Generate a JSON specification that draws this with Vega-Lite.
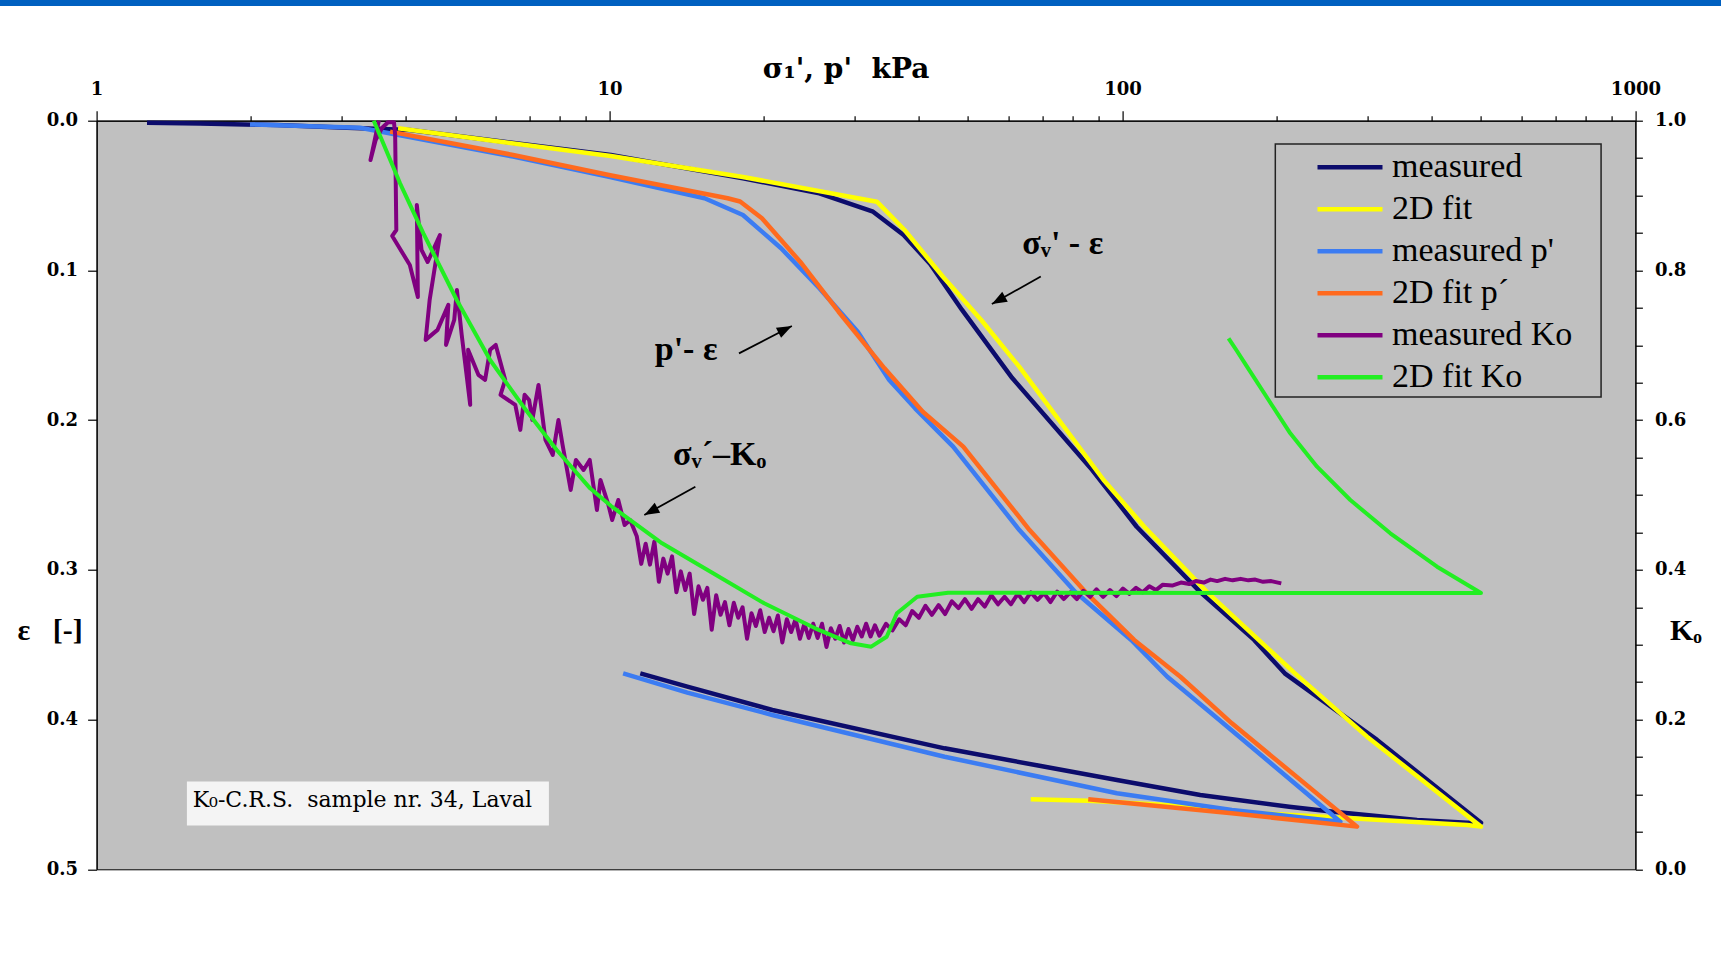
{
  "$schema": "https://vega.github.io/schema/vega-lite/v6.json",
  "width": 1538.8,
  "height": 748.6,
  "autosize": {"type": "none"},
  "padding": {"left": 96.6, "top": 120.7, "right": 85.6, "bottom": 85.7},
  "background": "#ffffff",
  "config": {
    "view": {"fill": "#c0c0c0", "stroke": "#000000", "strokeWidth": 1},
    "axis": {"grid": false, "domainColor": "#000000", "tickColor": "#000000", "labelColor": "#000000", "titleColor": "#000000", "domainWidth": 1.2, "tickWidth": 1.2}
  },
  "datasets": {
    "boxes": [
      {"kind": "header", "sigma": 0.5, "sigma2": 2000, "eps": -0.082, "eps2": -0.0766},
      {"kind": "legend", "sigma": 198.6, "sigma2": 857.2, "eps": 0.01556, "eps2": 0.1845},
      {"kind": "caption", "sigma": 1.5, "sigma2": 7.617, "eps": 0.4414, "eps2": 0.4707}
    ],
    "notes": [
      {"kind": "annotation", "label": "\u03c3\u1d65' - \u03b5", "sigma": 63.77, "eps": 0.089},
      {"kind": "annotation", "label": "p'- \u03b5", "sigma": 12.25, "eps": 0.1598},
      {"kind": "annotation", "label": "\u03c3\u1d65\u00b4\u2013K\u2092", "sigma": 13.3, "eps": 0.23},
      {"kind": "caption", "label": "K\u2080-C.R.S.\u00a0 sample nr. 34, Laval", "sigma": 1.539, "eps": 0.4582}
    ],
    "arrows": [
      {"dir": "down-left", "sigma": 69.3, "eps": 0.1041, "sigma2": 55.65, "eps2": 0.1224},
      {"dir": "up-right", "sigma": 17.88, "eps": 0.1554, "sigma2": 22.67, "eps2": 0.1371},
      {"dir": "down-left", "sigma": 14.7, "eps": 0.2445, "sigma2": 11.69, "eps2": 0.2634}
    ],
    "tips": [
      {"dir": "down-left", "sigma": 55.65, "eps": 0.1224},
      {"dir": "up-right", "sigma": 22.67, "eps": 0.1371},
      {"dir": "down-left", "sigma": 11.69, "eps": 0.2634}
    ],
    "strain": [
      {"series": "measured", "i": 1, "sigma": 1.254, "eps": 0.0013},
      {"series": "measured", "i": 2, "sigma": 1.591, "eps": 0.0019},
      {"series": "measured", "i": 3, "sigma": 2.248, "eps": 0.0029},
      {"series": "measured", "i": 4, "sigma": 2.984, "eps": 0.0045},
      {"series": "measured", "i": 5, "sigma": 4.08, "eps": 0.0062},
      {"series": "measured", "i": 6, "sigma": 10.06, "eps": 0.0229},
      {"series": "measured", "i": 7, "sigma": 18.2, "eps": 0.0385},
      {"series": "measured", "i": 8, "sigma": 25.65, "eps": 0.0485},
      {"series": "measured", "i": 9, "sigma": 32.64, "eps": 0.0608},
      {"series": "measured", "i": 10, "sigma": 37.44, "eps": 0.0763},
      {"series": "measured", "i": 11, "sigma": 42.19, "eps": 0.0957},
      {"series": "measured", "i": 12, "sigma": 48.67, "eps": 0.1264},
      {"series": "measured", "i": 13, "sigma": 60.97, "eps": 0.1719},
      {"series": "measured", "i": 14, "sigma": 87.32, "eps": 0.2333},
      {"series": "measured", "i": 15, "sigma": 106.6, "eps": 0.2712},
      {"series": "measured", "i": 16, "sigma": 142, "eps": 0.315},
      {"series": "measured", "i": 17, "sigma": 180.6, "eps": 0.3468},
      {"series": "measured", "i": 18, "sigma": 207.2, "eps": 0.3691},
      {"series": "measured", "i": 19, "sigma": 313.6, "eps": 0.4136},
      {"series": "measured", "i": 20, "sigma": 500, "eps": 0.4689},
      {"series": "measured", "i": 21, "sigma": 469.7, "eps": 0.4689},
      {"series": "measured", "i": 22, "sigma": 375.3, "eps": 0.4671},
      {"series": "measured", "i": 23, "sigma": 257.7, "eps": 0.4615},
      {"series": "measured", "i": 24, "sigma": 211.4, "eps": 0.4582},
      {"series": "measured", "i": 25, "sigma": 141.8, "eps": 0.4504},
      {"series": "measured", "i": 26, "sigma": 97.54, "eps": 0.4403},
      {"series": "measured", "i": 27, "sigma": 45, "eps": 0.4192},
      {"series": "measured", "i": 28, "sigma": 20.77, "eps": 0.3936},
      {"series": "measured", "i": 29, "sigma": 14.18, "eps": 0.378},
      {"series": "measured", "i": 30, "sigma": 11.48, "eps": 0.3691},
      {"series": "2D fit", "i": 31, "sigma": 3.87, "eps": 0.0051},
      {"series": "2D fit", "i": 32, "sigma": 10.06, "eps": 0.0236},
      {"series": "2D fit", "i": 33, "sigma": 18.2, "eps": 0.0376},
      {"series": "2D fit", "i": 34, "sigma": 33.2, "eps": 0.0541},
      {"series": "2D fit", "i": 35, "sigma": 37.6, "eps": 0.073},
      {"series": "2D fit", "i": 36, "sigma": 44.67, "eps": 0.1042},
      {"series": "2D fit", "i": 37, "sigma": 53.05, "eps": 0.1331},
      {"series": "2D fit", "i": 38, "sigma": 62.9, "eps": 0.1643},
      {"series": "2D fit", "i": 39, "sigma": 91.9, "eps": 0.24},
      {"series": "2D fit", "i": 40, "sigma": 110.3, "eps": 0.2712},
      {"series": "2D fit", "i": 41, "sigma": 146.4, "eps": 0.315},
      {"series": "2D fit", "i": 42, "sigma": 184.3, "eps": 0.3468},
      {"series": "2D fit", "i": 43, "sigma": 216.9, "eps": 0.3691},
      {"series": "2D fit", "i": 44, "sigma": 299.8, "eps": 0.4114},
      {"series": "2D fit", "i": 45, "sigma": 500, "eps": 0.4715},
      {"series": "2D fit", "i": 46, "sigma": 469.7, "eps": 0.4704},
      {"series": "2D fit", "i": 47, "sigma": 278.1, "eps": 0.4659},
      {"series": "2D fit", "i": 48, "sigma": 163.4, "eps": 0.4615},
      {"series": "2D fit", "i": 49, "sigma": 141.8, "eps": 0.4582},
      {"series": "2D fit", "i": 50, "sigma": 85.76, "eps": 0.4542},
      {"series": "2D fit", "i": 51, "sigma": 66.25, "eps": 0.4532},
      {"series": "measured p'", "i": 52, "sigma": 1.991, "eps": 0.0025},
      {"series": "measured p'", "i": 53, "sigma": 3.264, "eps": 0.0047},
      {"series": "measured p'", "i": 54, "sigma": 6.487, "eps": 0.024},
      {"series": "measured p'", "i": 55, "sigma": 9.973, "eps": 0.0374},
      {"series": "measured p'", "i": 56, "sigma": 15.32, "eps": 0.0518},
      {"series": "measured p'", "i": 57, "sigma": 18.2, "eps": 0.063},
      {"series": "measured p'", "i": 58, "sigma": 21.6, "eps": 0.0852},
      {"series": "measured p'", "i": 59, "sigma": 25.65, "eps": 0.1119},
      {"series": "measured p'", "i": 60, "sigma": 30.47, "eps": 0.1409},
      {"series": "measured p'", "i": 61, "sigma": 35.1, "eps": 0.1732},
      {"series": "measured p'", "i": 62, "sigma": 39.42, "eps": 0.1921},
      {"series": "measured p'", "i": 62.5, "sigma": 46.76, "eps": 0.2177},
      {"series": "measured p'", "i": 63, "sigma": 62.95, "eps": 0.2734},
      {"series": "measured p'", "i": 64, "sigma": 81, "eps": 0.315},
      {"series": "measured p'", "i": 65, "sigma": 104, "eps": 0.3468},
      {"series": "measured p'", "i": 66, "sigma": 122.3, "eps": 0.3714},
      {"series": "measured p'", "i": 67, "sigma": 150.4, "eps": 0.3969},
      {"series": "measured p'", "i": 68, "sigma": 265.9, "eps": 0.4682},
      {"series": "measured p'", "i": 69, "sigma": 163.4, "eps": 0.4604},
      {"series": "measured p'", "i": 70, "sigma": 97.54, "eps": 0.4492},
      {"series": "measured p'", "i": 71, "sigma": 45, "eps": 0.4248},
      {"series": "measured p'", "i": 72, "sigma": 20.77, "eps": 0.3969},
      {"series": "measured p'", "i": 73, "sigma": 14.18, "eps": 0.382},
      {"series": "measured p'", "i": 74, "sigma": 10.63, "eps": 0.3691},
      {"series": "2D fit p\u00b4", "i": 75, "sigma": 3.734, "eps": 0.0073},
      {"series": "2D fit p\u00b4", "i": 76, "sigma": 6.487, "eps": 0.0229},
      {"series": "2D fit p\u00b4", "i": 77, "sigma": 9.973, "eps": 0.0363},
      {"series": "2D fit p\u00b4", "i": 78, "sigma": 16.99, "eps": 0.0518},
      {"series": "2D fit p\u00b4", "i": 79, "sigma": 17.97, "eps": 0.054},
      {"series": "2D fit p\u00b4", "i": 80, "sigma": 19.82, "eps": 0.0652},
      {"series": "2D fit p\u00b4", "i": 81, "sigma": 23.53, "eps": 0.0942},
      {"series": "2D fit p\u00b4", "i": 82, "sigma": 27.96, "eps": 0.1276},
      {"series": "2D fit p\u00b4", "i": 83, "sigma": 34.36, "eps": 0.1654},
      {"series": "2D fit p\u00b4", "i": 84, "sigma": 40.8, "eps": 0.1944},
      {"series": "2D fit p\u00b4", "i": 84.5, "sigma": 48.93, "eps": 0.2177},
      {"series": "2D fit p\u00b4", "i": 85, "sigma": 65.9, "eps": 0.2734},
      {"series": "2D fit p\u00b4", "i": 86, "sigma": 84.8, "eps": 0.315},
      {"series": "2D fit p\u00b4", "i": 87, "sigma": 105.4, "eps": 0.3468},
      {"series": "2D fit p\u00b4", "i": 88, "sigma": 129.7, "eps": 0.3714},
      {"series": "2D fit p\u00b4", "i": 89, "sigma": 163.4, "eps": 0.4025},
      {"series": "2D fit p\u00b4", "i": 90, "sigma": 286.6, "eps": 0.4715},
      {"series": "2D fit p\u00b4", "i": 91, "sigma": 163.4, "eps": 0.4626},
      {"series": "2D fit p\u00b4", "i": 92, "sigma": 85.76, "eps": 0.4532}
    ],
    "ko": [
      {"series": "measured Ko", "i": 1, "sigma": 3.55, "Ko": 1.0},
      {"series": "measured Ko", "i": 2, "sigma": 3.42, "Ko": 0.9475},
      {"series": "measured Ko", "i": 3, "sigma": 3.5, "Ko": 0.9742},
      {"series": "measured Ko", "i": 4, "sigma": 3.6, "Ko": 0.9902},
      {"series": "measured Ko", "i": 5, "sigma": 3.7, "Ko": 0.998},
      {"series": "measured Ko", "i": 6, "sigma": 3.8, "Ko": 0.998},
      {"series": "measured Ko", "i": 7, "sigma": 3.82, "Ko": 0.9811},
      {"series": "measured Ko", "i": 8, "sigma": 3.84, "Ko": 0.854},
      {"series": "measured Ko", "i": 9, "sigma": 3.77, "Ko": 0.846},
      {"series": "measured Ko", "i": 10, "sigma": 4.08, "Ko": 0.8072},
      {"series": "measured Ko", "i": 11, "sigma": 4.23, "Ko": 0.7645},
      {"series": "measured Ko", "i": 12, "sigma": 4.21, "Ko": 0.8874},
      {"series": "measured Ko", "i": 13, "sigma": 4.3, "Ko": 0.8273},
      {"series": "measured Ko", "i": 14, "sigma": 4.42, "Ko": 0.8112},
      {"series": "measured Ko", "i": 15, "sigma": 4.67, "Ko": 0.8473},
      {"series": "measured Ko", "i": 16, "sigma": 4.46, "Ko": 0.7606},
      {"series": "measured Ko", "i": 17, "sigma": 4.38, "Ko": 0.7072},
      {"series": "measured Ko", "i": 18, "sigma": 4.62, "Ko": 0.7206},
      {"series": "measured Ko", "i": 19, "sigma": 4.85, "Ko": 0.754},
      {"series": "measured Ko", "i": 20, "sigma": 4.8, "Ko": 0.7005},
      {"series": "measured Ko", "i": 21, "sigma": 4.98, "Ko": 0.7338},
      {"series": "measured Ko", "i": 22, "sigma": 5.04, "Ko": 0.7739},
      {"series": "measured Ko", "i": 23, "sigma": 5.15, "Ko": 0.7139},
      {"series": "measured Ko", "i": 24, "sigma": 5.35, "Ko": 0.6204},
      {"series": "measured Ko", "i": 25, "sigma": 5.3, "Ko": 0.6939},
      {"series": "measured Ko", "i": 26, "sigma": 5.55, "Ko": 0.6605},
      {"series": "measured Ko", "i": 27, "sigma": 5.72, "Ko": 0.6538},
      {"series": "measured Ko", "i": 28, "sigma": 5.85, "Ko": 0.6939},
      {"series": "measured Ko", "i": 29, "sigma": 6.0, "Ko": 0.7005},
      {"series": "measured Ko", "i": 30, "sigma": 6.26, "Ko": 0.6538},
      {"series": "measured Ko", "i": 31, "sigma": 6.13, "Ko": 0.6338},
      {"series": "measured Ko", "i": 32, "sigma": 6.55, "Ko": 0.6204},
      {"series": "measured Ko", "i": 33, "sigma": 6.7, "Ko": 0.587},
      {"series": "measured Ko", "i": 34, "sigma": 6.83, "Ko": 0.6338},
      {"series": "measured Ko", "i": 35, "sigma": 6.97, "Ko": 0.6269},
      {"series": "measured Ko", "i": 36, "sigma": 7.07, "Ko": 0.6002},
      {"series": "measured Ko", "i": 37, "sigma": 7.27, "Ko": 0.647},
      {"series": "measured Ko", "i": 38, "sigma": 7.5, "Ko": 0.5736},
      {"series": "measured Ko", "i": 39, "sigma": 7.75, "Ko": 0.5536},
      {"series": "measured Ko", "i": 40, "sigma": 7.95, "Ko": 0.6002},
      {"series": "measured Ko", "i": 41, "sigma": 8.1, "Ko": 0.5668},
      {"series": "measured Ko", "i": 42, "sigma": 8.4, "Ko": 0.5067},
      {"series": "measured Ko", "i": 43, "sigma": 8.6, "Ko": 0.5468},
      {"series": "measured Ko", "i": 44, "sigma": 8.9, "Ko": 0.5334},
      {"series": "measured Ko", "i": 45, "sigma": 9.15, "Ko": 0.5468},
      {"series": "measured Ko", "i": 46, "sigma": 9.45, "Ko": 0.48},
      {"series": "measured Ko", "i": 47, "sigma": 9.6, "Ko": 0.5201},
      {"series": "measured Ko", "i": 48, "sigma": 9.95, "Ko": 0.4867},
      {"series": "measured Ko", "i": 49, "sigma": 10.12, "Ko": 0.4666},
      {"series": "measured Ko", "i": 50, "sigma": 10.4, "Ko": 0.4933},
      {"series": "measured Ko", "i": 51, "sigma": 10.7, "Ko": 0.46},
      {"series": "measured Ko", "i": 52, "sigma": 10.97, "Ko": 0.4666},
      {"series": "measured Ko", "i": 53, "sigma": 11.3, "Ko": 0.445},
      {"series": "measured Ko", "i": 54, "sigma": 11.53, "Ko": 0.408},
      {"series": "measured Ko", "i": 55, "sigma": 11.76, "Ko": 0.435},
      {"series": "measured Ko", "i": 56, "sigma": 11.99, "Ko": 0.407},
      {"series": "measured Ko", "i": 57, "sigma": 12.23, "Ko": 0.438},
      {"series": "measured Ko", "i": 58, "sigma": 12.48, "Ko": 0.384},
      {"series": "measured Ko", "i": 59, "sigma": 12.73, "Ko": 0.415},
      {"series": "measured Ko", "i": 60, "sigma": 12.98, "Ko": 0.395},
      {"series": "measured Ko", "i": 61, "sigma": 13.24, "Ko": 0.418},
      {"series": "measured Ko", "i": 62, "sigma": 13.5, "Ko": 0.37},
      {"series": "measured Ko", "i": 63, "sigma": 13.77, "Ko": 0.398},
      {"series": "measured Ko", "i": 64, "sigma": 14.05, "Ko": 0.373},
      {"series": "measured Ko", "i": 65, "sigma": 14.33, "Ko": 0.395},
      {"series": "measured Ko", "i": 66, "sigma": 14.62, "Ko": 0.341},
      {"series": "measured Ko", "i": 67, "sigma": 14.91, "Ko": 0.378},
      {"series": "measured Ko", "i": 68, "sigma": 15.21, "Ko": 0.36},
      {"series": "measured Ko", "i": 69, "sigma": 15.51, "Ko": 0.376},
      {"series": "measured Ko", "i": 70, "sigma": 15.82, "Ko": 0.32},
      {"series": "measured Ko", "i": 71, "sigma": 16.14, "Ko": 0.366},
      {"series": "measured Ko", "i": 72, "sigma": 16.46, "Ko": 0.34},
      {"series": "measured Ko", "i": 73, "sigma": 16.79, "Ko": 0.357},
      {"series": "measured Ko", "i": 74, "sigma": 17.13, "Ko": 0.326},
      {"series": "measured Ko", "i": 75, "sigma": 17.47, "Ko": 0.356},
      {"series": "measured Ko", "i": 76, "sigma": 17.82, "Ko": 0.336},
      {"series": "measured Ko", "i": 77, "sigma": 18.17, "Ko": 0.35},
      {"series": "measured Ko", "i": 78, "sigma": 18.54, "Ko": 0.308},
      {"series": "measured Ko", "i": 79, "sigma": 18.91, "Ko": 0.342},
      {"series": "measured Ko", "i": 80, "sigma": 19.29, "Ko": 0.325},
      {"series": "measured Ko", "i": 81, "sigma": 19.67, "Ko": 0.346},
      {"series": "measured Ko", "i": 82, "sigma": 20.07, "Ko": 0.317},
      {"series": "measured Ko", "i": 83, "sigma": 20.47, "Ko": 0.336},
      {"series": "measured Ko", "i": 84, "sigma": 20.88, "Ko": 0.318},
      {"series": "measured Ko", "i": 85, "sigma": 21.29, "Ko": 0.339},
      {"series": "measured Ko", "i": 86, "sigma": 21.72, "Ko": 0.303},
      {"series": "measured Ko", "i": 87, "sigma": 22.16, "Ko": 0.334},
      {"series": "measured Ko", "i": 88, "sigma": 22.6, "Ko": 0.317},
      {"series": "measured Ko", "i": 89, "sigma": 23.05, "Ko": 0.334},
      {"series": "measured Ko", "i": 90, "sigma": 23.51, "Ko": 0.308},
      {"series": "measured Ko", "i": 91, "sigma": 23.98, "Ko": 0.328},
      {"series": "measured Ko", "i": 92, "sigma": 24.46, "Ko": 0.309},
      {"series": "measured Ko", "i": 93, "sigma": 24.95, "Ko": 0.328},
      {"series": "measured Ko", "i": 94, "sigma": 25.45, "Ko": 0.309},
      {"series": "measured Ko", "i": 95, "sigma": 25.96, "Ko": 0.328},
      {"series": "measured Ko", "i": 96, "sigma": 26.48, "Ko": 0.297},
      {"series": "measured Ko", "i": 97, "sigma": 27.01, "Ko": 0.322},
      {"series": "measured Ko", "i": 98, "sigma": 27.55, "Ko": 0.308},
      {"series": "measured Ko", "i": 99, "sigma": 28.1, "Ko": 0.325},
      {"series": "measured Ko", "i": 100, "sigma": 28.66, "Ko": 0.303},
      {"series": "measured Ko", "i": 101, "sigma": 29.23, "Ko": 0.321},
      {"series": "measured Ko", "i": 102, "sigma": 29.82, "Ko": 0.306},
      {"series": "measured Ko", "i": 103, "sigma": 30.41, "Ko": 0.324},
      {"series": "measured Ko", "i": 104, "sigma": 31.02, "Ko": 0.311},
      {"series": "measured Ko", "i": 105, "sigma": 31.64, "Ko": 0.328},
      {"series": "measured Ko", "i": 106, "sigma": 32.28, "Ko": 0.311},
      {"series": "measured Ko", "i": 107, "sigma": 32.92, "Ko": 0.326},
      {"series": "measured Ko", "i": 108, "sigma": 33.58, "Ko": 0.312},
      {"series": "measured Ko", "i": 109, "sigma": 34.6, "Ko": 0.328},
      {"series": "measured Ko", "i": 110, "sigma": 35.6, "Ko": 0.319},
      {"series": "measured Ko", "i": 111, "sigma": 36.7, "Ko": 0.334},
      {"series": "measured Ko", "i": 112, "sigma": 37.8, "Ko": 0.326},
      {"series": "measured Ko", "i": 113, "sigma": 38.9, "Ko": 0.345},
      {"series": "measured Ko", "i": 114, "sigma": 40.1, "Ko": 0.336},
      {"series": "measured Ko", "i": 115, "sigma": 41.3, "Ko": 0.352},
      {"series": "measured Ko", "i": 116, "sigma": 42.5, "Ko": 0.34},
      {"series": "measured Ko", "i": 117, "sigma": 43.8, "Ko": 0.353},
      {"series": "measured Ko", "i": 118, "sigma": 45.1, "Ko": 0.341},
      {"series": "measured Ko", "i": 119, "sigma": 46.5, "Ko": 0.358},
      {"series": "measured Ko", "i": 120, "sigma": 47.9, "Ko": 0.349},
      {"series": "measured Ko", "i": 121, "sigma": 49.3, "Ko": 0.361},
      {"series": "measured Ko", "i": 122, "sigma": 50.8, "Ko": 0.348},
      {"series": "measured Ko", "i": 123, "sigma": 52.3, "Ko": 0.361},
      {"series": "measured Ko", "i": 124, "sigma": 53.9, "Ko": 0.351},
      {"series": "measured Ko", "i": 125, "sigma": 55.5, "Ko": 0.366},
      {"series": "measured Ko", "i": 126, "sigma": 57.2, "Ko": 0.354},
      {"series": "measured Ko", "i": 127, "sigma": 58.9, "Ko": 0.364},
      {"series": "measured Ko", "i": 128, "sigma": 60.6, "Ko": 0.354},
      {"series": "measured Ko", "i": 129, "sigma": 62.5, "Ko": 0.368},
      {"series": "measured Ko", "i": 130, "sigma": 64.3, "Ko": 0.357},
      {"series": "measured Ko", "i": 131, "sigma": 66.3, "Ko": 0.37},
      {"series": "measured Ko", "i": 132, "sigma": 68.3, "Ko": 0.36},
      {"series": "measured Ko", "i": 133, "sigma": 70.3, "Ko": 0.369},
      {"series": "measured Ko", "i": 134, "sigma": 72.4, "Ko": 0.357},
      {"series": "measured Ko", "i": 135, "sigma": 74.6, "Ko": 0.371},
      {"series": "measured Ko", "i": 136, "sigma": 76.8, "Ko": 0.361},
      {"series": "measured Ko", "i": 137, "sigma": 79.1, "Ko": 0.37},
      {"series": "measured Ko", "i": 138, "sigma": 81.5, "Ko": 0.361},
      {"series": "measured Ko", "i": 139, "sigma": 83.9, "Ko": 0.372},
      {"series": "measured Ko", "i": 140, "sigma": 86.5, "Ko": 0.364},
      {"series": "measured Ko", "i": 141, "sigma": 89.0, "Ko": 0.374},
      {"series": "measured Ko", "i": 142, "sigma": 91.7, "Ko": 0.364},
      {"series": "measured Ko", "i": 143, "sigma": 94.5, "Ko": 0.373},
      {"series": "measured Ko", "i": 144, "sigma": 97.3, "Ko": 0.365},
      {"series": "measured Ko", "i": 145, "sigma": 100.2, "Ko": 0.375},
      {"series": "measured Ko", "i": 146, "sigma": 103.2, "Ko": 0.368},
      {"series": "measured Ko", "i": 147, "sigma": 106.3, "Ko": 0.376},
      {"series": "measured Ko", "i": 148, "sigma": 109.5, "Ko": 0.37},
      {"series": "measured Ko", "i": 149, "sigma": 112.8, "Ko": 0.378},
      {"series": "measured Ko", "i": 150, "sigma": 116.2, "Ko": 0.373},
      {"series": "measured Ko", "i": 151, "sigma": 119.7, "Ko": 0.38},
      {"series": "measured Ko", "i": 152, "sigma": 125, "Ko": 0.379},
      {"series": "measured Ko", "i": 153, "sigma": 130, "Ko": 0.383},
      {"series": "measured Ko", "i": 154, "sigma": 135, "Ko": 0.381},
      {"series": "measured Ko", "i": 155, "sigma": 139, "Ko": 0.385},
      {"series": "measured Ko", "i": 156, "sigma": 144, "Ko": 0.383},
      {"series": "measured Ko", "i": 157, "sigma": 148.5, "Ko": 0.387},
      {"series": "measured Ko", "i": 158, "sigma": 153, "Ko": 0.385},
      {"series": "measured Ko", "i": 159, "sigma": 158.5, "Ko": 0.388},
      {"series": "measured Ko", "i": 160, "sigma": 164, "Ko": 0.386},
      {"series": "measured Ko", "i": 161, "sigma": 170, "Ko": 0.388},
      {"series": "measured Ko", "i": 162, "sigma": 176, "Ko": 0.386},
      {"series": "measured Ko", "i": 163, "sigma": 181.5, "Ko": 0.387},
      {"series": "measured Ko", "i": 164, "sigma": 188, "Ko": 0.384},
      {"series": "measured Ko", "i": 165, "sigma": 195, "Ko": 0.385},
      {"series": "measured Ko", "i": 166, "sigma": 204, "Ko": 0.382},
      {"series": "2D fit Ko", "i": 201, "sigma": 3.47, "Ko": 1.0},
      {"series": "2D fit Ko", "i": 202, "sigma": 3.905, "Ko": 0.9164},
      {"series": "2D fit Ko", "i": 203, "sigma": 4.336, "Ko": 0.8496},
      {"series": "2D fit Ko", "i": 204, "sigma": 5.037, "Ko": 0.7605},
      {"series": "2D fit Ko", "i": 205, "sigma": 5.85, "Ko": 0.6803},
      {"series": "2D fit Ko", "i": 206, "sigma": 6.793, "Ko": 0.618},
      {"series": "2D fit Ko", "i": 207, "sigma": 7.89, "Ko": 0.5601},
      {"series": "2D fit Ko", "i": 208, "sigma": 9.166, "Ko": 0.5089},
      {"series": "2D fit Ko", "i": 209, "sigma": 10.07, "Ko": 0.4853},
      {"series": "2D fit Ko", "i": 210, "sigma": 12.66, "Ko": 0.4355},
      {"series": "2D fit Ko", "i": 211, "sigma": 15.92, "Ko": 0.3954},
      {"series": "2D fit Ko", "i": 212, "sigma": 20.02, "Ko": 0.3553},
      {"series": "2D fit Ko", "i": 213, "sigma": 25.17, "Ko": 0.3219},
      {"series": "2D fit Ko", "i": 214, "sigma": 29.57, "Ko": 0.3019},
      {"series": "2D fit Ko", "i": 215, "sigma": 32.37, "Ko": 0.2974},
      {"series": "2D fit Ko", "i": 216, "sigma": 34.7, "Ko": 0.3107},
      {"series": "2D fit Ko", "i": 217, "sigma": 36.33, "Ko": 0.342},
      {"series": "2D fit Ko", "i": 218, "sigma": 39.8, "Ko": 0.3641},
      {"series": "2D fit Ko", "i": 219, "sigma": 45.7, "Ko": 0.3695},
      {"series": "2D fit Ko", "i": 220, "sigma": 500, "Ko": 0.369},
      {"series": "2D fit Ko", "i": 221, "sigma": 410.5, "Ko": 0.4042},
      {"series": "2D fit Ko", "i": 222, "sigma": 332.8, "Ko": 0.4488},
      {"series": "2D fit Ko", "i": 223, "sigma": 278.1, "Ko": 0.4933},
      {"series": "2D fit Ko", "i": 224, "sigma": 239.5, "Ko": 0.5378},
      {"series": "2D fit Ko", "i": 225, "sigma": 212.4, "Ko": 0.5824},
      {"series": "2D fit Ko", "i": 226, "sigma": 192.7, "Ko": 0.6269},
      {"series": "2D fit Ko", "i": 227, "sigma": 174.9, "Ko": 0.6714},
      {"series": "2D fit Ko", "i": 228, "sigma": 166.7, "Ko": 0.6937},
      {"series": "2D fit Ko", "i": 229, "sigma": 161, "Ko": 0.7093}
    ]
  },
  "encoding": {
    "x": {
      "field": "sigma",
      "type": "quantitative",
      "scale": {"type": "log", "domain": [1, 1000]},
      "axis": {
        "orient": "top",
        "values": [1, 2, 3, 4, 5, 6, 7, 8, 9, 10, 20, 30, 40, 50, 60, 70, 80, 90, 100, 200, 300, 400, 500, 600, 700, 800, 900, 1000],
        "labelExpr": "datum.value == 1 || datum.value == 10 || datum.value == 100 || datum.value == 1000 ? '' + datum.value : ''",
        "tickSize": {"condition": {"test": "datum.value == 1 || datum.value == 10 || datum.value == 100 || datum.value == 1000", "value": 10}, "value": 5},
        "labelPadding": 12,
        "labelFont": "DejaVu Serif",
        "labelFontWeight": "bold",
        "labelFontSize": 18,
        "labelOverlap": false,
        "labelFlush": false,
        "labelBound": false,
        "title": "\u03c3\u2081', p'\u00a0\u00a0kPa",
        "titleFont": "DejaVu Serif",
        "titleFontWeight": "bold",
        "titleFontSize": 28,
        "titleX": 749,
        "titleY": -43,
        "titleAlign": "center",
        "titleBaseline": "alphabetic"
      }
    }
  },
  "layer": [
    {
      "encoding": {
        "y": {
          "field": "eps",
          "type": "quantitative",
          "scale": {"domain": [0, 0.5], "reverse": true},
          "axis": {
            "orient": "left",
            "values": [0, 0.1, 0.2, 0.3, 0.4, 0.5],
            "format": ".1f",
            "tickSize": 9,
            "labelPadding": 10,
            "labelFont": "DejaVu Serif",
            "labelFontWeight": "bold",
            "labelFontSize": 18,
            "labelFlush": false,
            "title": "\u03b5\u00a0\u00a0\u00a0[-]",
            "titleAngle": 0,
            "titleX": -47,
            "titleY": 510,
            "titleAlign": "center",
            "titleBaseline": "middle",
            "titleFont": "Liberation Serif",
            "titleFontWeight": "bold",
            "titleFontSize": 30
          }
        }
      },
      "layer": [
        {
          "data": {"name": "boxes"},
          "transform": [{"filter": "datum.kind == 'header'"}],
          "mark": {"type": "rect", "fill": "#0060c0", "clip": false},
          "encoding": {"x2": {"field": "sigma2"}, "y2": {"field": "eps2"}}
        },
        {
          "data": {"name": "boxes"},
          "transform": [{"filter": "datum.kind == 'legend'"}],
          "mark": {"type": "rect", "fillOpacity": 0, "stroke": "#222222", "strokeWidth": 1.5},
          "encoding": {"x2": {"field": "sigma2"}, "y2": {"field": "eps2"}}
        },
        {
          "data": {"name": "boxes"},
          "transform": [{"filter": "datum.kind == 'caption'"}],
          "mark": {"type": "rect", "fill": "#f4f4f4"},
          "encoding": {"x2": {"field": "sigma2"}, "y2": {"field": "eps2"}}
        },
        {
          "data": {"name": "strain"},
          "mark": {"type": "line", "strokeWidth": 4.5, "strokeJoin": "round"},
          "encoding": {
            "order": {"field": "i", "type": "quantitative"},
            "color": {
              "field": "series",
              "type": "nominal",
              "scale": {
                "domain": ["measured", "2D fit", "measured p'", "2D fit p\u00b4", "measured Ko", "2D fit Ko"],
                "range": ["#0c0c6c", "#ffff00", "#3c7cf2", "#ff6a1e", "#800080", "#22ee22"]
              },
              "legend": {
                "orient": "none",
                "legendX": 1218.4,
                "legendY": 29.6,
                "title": null,
                "padding": 0,
                "symbolType": "stroke",
                "symbolSize": 4225,
                "symbolStrokeWidth": 4.5,
                "clipHeight": 34,
                "rowPadding": 8,
                "labelOffset": 7,
                "labelFont": "Liberation Serif",
                "labelFontSize": 34,
                "labelColor": "#000000",
                "labelLimit": 400
              }
            }
          }
        },
        {
          "data": {"name": "notes"},
          "transform": [{"filter": "datum.kind == 'annotation'"}],
          "mark": {"type": "text", "font": "Liberation Serif", "fontWeight": "bold", "fontSize": 34, "align": "left", "baseline": "alphabetic", "color": "#000000"},
          "encoding": {"text": {"field": "label"}}
        },
        {
          "data": {"name": "notes"},
          "transform": [{"filter": "datum.kind == 'caption'"}],
          "mark": {"type": "text", "font": "DejaVu Serif", "fontSize": 22, "align": "left", "baseline": "alphabetic", "color": "#000000"},
          "encoding": {"text": {"field": "label"}}
        },
        {
          "data": {"name": "arrows"},
          "mark": {"type": "rule", "stroke": "#000000", "strokeWidth": 1.8},
          "encoding": {"x2": {"field": "sigma2"}, "y2": {"field": "eps2"}}
        },
        {
          "data": {"name": "tips"},
          "transform": [{"filter": "datum.dir == 'down-left'"}],
          "mark": {"type": "point", "shape": "M0,0L0.38,1L-0.38,1Z", "filled": true, "color": "#000000", "opacity": 1, "size": 900, "angle": 241},
          "encoding": {}
        },
        {
          "data": {"name": "tips"},
          "transform": [{"filter": "datum.dir == 'up-right'"}],
          "mark": {"type": "point", "shape": "M0,0L0.38,1L-0.38,1Z", "filled": true, "color": "#000000", "opacity": 1, "size": 900, "angle": 63},
          "encoding": {}
        }
      ]
    },
    {
      "data": {"name": "ko"},
      "mark": {"type": "line", "strokeWidth": 4, "strokeJoin": "round"},
      "encoding": {
        "y": {
          "field": "Ko",
          "type": "quantitative",
          "scale": {"domain": [0, 1]},
          "axis": {
            "orient": "right",
            "values": [0, 0.05, 0.1, 0.15, 0.2, 0.25, 0.3, 0.35, 0.4, 0.45, 0.5, 0.55, 0.6, 0.65, 0.7, 0.75, 0.8, 0.85, 0.9, 0.95, 1],
            "labelExpr": "abs(datum.value * 5 - round(datum.value * 5)) < 0.001 ? format(datum.value, '.1f') : ''",
            "tickSize": 7,
            "labelPadding": 12,
            "labelFont": "DejaVu Serif",
            "labelFontWeight": "bold",
            "labelFontSize": 18,
            "labelFlush": false,
            "labelOverlap": false,
            "title": "K\u2092",
            "titleAngle": 0,
            "titleX": 50,
            "titleY": 510,
            "titleAlign": "center",
            "titleBaseline": "middle",
            "titleFont": "Liberation Serif",
            "titleFontWeight": "bold",
            "titleFontSize": 30
          }
        },
        "order": {"field": "i", "type": "quantitative"},
        "color": {
          "field": "series",
          "type": "nominal",
          "scale": {
            "domain": ["measured", "2D fit", "measured p'", "2D fit p\u00b4", "measured Ko", "2D fit Ko"],
            "range": ["#0c0c6c", "#ffff00", "#3c7cf2", "#ff6a1e", "#800080", "#22ee22"]
          },
          "legend": {
            "orient": "none",
            "legendX": 1218.4,
            "legendY": 29.6,
            "title": null,
            "padding": 0,
            "symbolType": "stroke",
            "symbolSize": 4225,
            "symbolStrokeWidth": 4.5,
            "clipHeight": 34,
            "rowPadding": 8,
            "labelOffset": 7,
            "labelFont": "Liberation Serif",
            "labelFontSize": 34,
            "labelColor": "#000000",
            "labelLimit": 400
          }
        }
      }
    }
  ],
  "resolve": {"scale": {"y": "independent"}}
}
